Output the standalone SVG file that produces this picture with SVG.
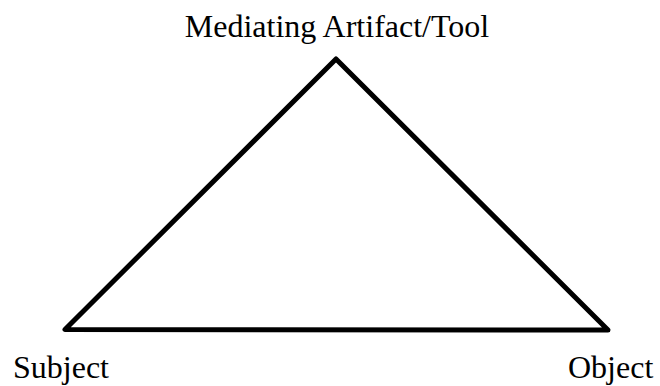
<svg xmlns="http://www.w3.org/2000/svg" width="660" height="386" viewBox="0 0 660 386">
<style>
text{font-family:"Liberation Serif","Times New Roman",serif;font-size:32px;fill:#000}
.edge{fill:none;stroke:#000;stroke-width:5;stroke-linejoin:round}
</style>
<rect width="660" height="386" fill="#fff"/>
<g id="connectors">
<polygon class="edge" points="336,59 65,329.5 608,330"/>
</g>
<g id="tool"><text x="337" y="37" text-anchor="middle">Mediating Artifact/Tool</text></g>
<g id="subject"><text x="13" y="378">Subject</text></g>
<g id="object"><text x="568" y="378">Object</text></g>
</svg>
